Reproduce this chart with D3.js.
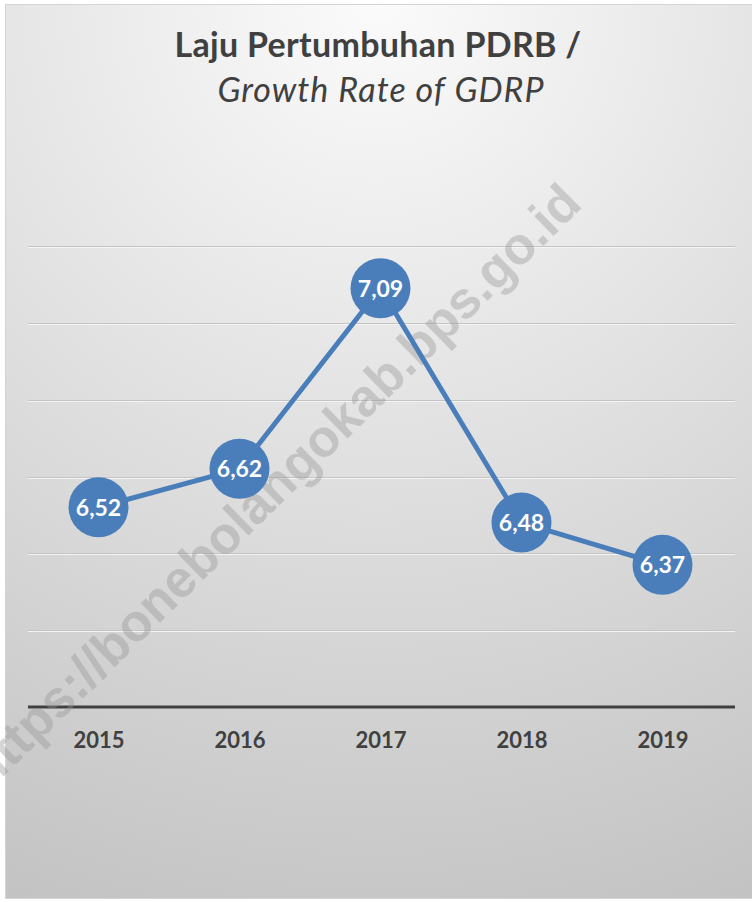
<!DOCTYPE html>
<html>
<head>
<meta charset="utf-8">
<script src="https://cdn.jsdelivr.net/npm/d3@7/dist/d3.min.js"></script>
<style>
  html, body { margin: 0; padding: 0; background: #ffffff; }
  svg { display: block; }
</style>
</head>
<body>
<svg id="chart" width="752" height="902"></svg>
<script>
// Growth rate of GDRP, percent, by year
const years = ["2015", "2016", "2017", "2018", "2019"];
const growth = [6.52, 6.62, 7.09, 6.48, 6.37];
const yTicks = [6.0, 6.2, 6.4, 6.6, 6.8, 7.0, 7.2];
const titleLine1 = "Laju Pertumbuhan PDRB /";
const titleLine2 = "Growth Rate of GDRP";
const watermark = "https://bonebolangokab.bps.go.id";

const W = 752, H = 902;
const svg = d3.select("#chart");

// soft radial backdrop
const defs = svg.append("defs");
const grad = defs.append("radialGradient")
  .attr("id", "bg")
  .attr("gradientUnits", "userSpaceOnUse")
  .attr("cx", 376).attr("cy", 0).attr("r", 1000);
grad.append("stop").attr("offset", 0).attr("stop-color", "#fbfbfb");
grad.append("stop").attr("offset", 1).attr("stop-color", "#c1c1c1");

svg.append("rect")
  .attr("x", 5.5).attr("y", 4.5)
  .attr("width", W - 5).attr("height", H - 8)
  .attr("fill", "url(#bg)")
  .attr("stroke", "#d4d4d4").attr("stroke-width", 1);

const x = d3.scalePoint().domain(years).range([28, 733]).padding(0.5);
const y = d3.scaleLinear().domain([6.0, 7.2]).range([707, 246]);

// horizontal gridlines
const grid = svg.append("g");
grid.selectAll("line.hl")
  .data(yTicks.slice(1))
  .join("line")
  .attr("class", "hl")
  .attr("x1", 28).attr("x2", 735)
  .attr("y1", d => Math.round(y(d)) + 1.5).attr("y2", d => Math.round(y(d)) + 1.5)
  .attr("stroke", "#f4f4f4").attr("stroke-width", 1);
grid.selectAll("line.g")
  .data(yTicks.slice(1))
  .join("line")
  .attr("class", "g")
  .attr("x1", 28).attr("x2", 735)
  .attr("y1", d => Math.round(y(d)) + 0.5).attr("y2", d => Math.round(y(d)) + 0.5)
  .attr("stroke", "#c4c4c4").attr("stroke-width", 1);

// category axis
const xAxis = svg.append("g")
  .attr("transform", `translate(0,${y(6.0)})`)
  .call(d3.axisBottom(x).tickSize(0).tickPadding(25));
xAxis.select(".domain")
  .attr("d", "M28,0H735")
  .attr("stroke", "#404040").attr("stroke-width", 3);
xAxis.selectAll("text")
  .attr("font-family", "Lato, 'Open Sans', sans-serif")
  .attr("font-weight", "bold")
  .attr("font-size", 22)
  .attr("fill", "#404040");

// watermark
svg.append("text")
  .attr("transform", "translate(584,206) rotate(-44.5)")
  .attr("text-anchor", "end")
  .attr("font-family", "'Liberation Sans', Arial, sans-serif")
  .attr("font-weight", "bold")
  .attr("font-size", 52)
  .attr("fill", "rgba(150,150,150,0.4)")
  .text(watermark);

// title
const title = svg.append("g")
  .attr("font-family", "Lato, 'Open Sans', sans-serif")
  .attr("fill", "#404040")
  .attr("text-anchor", "middle");
title.append("text")
  .attr("x", 378).attr("y", 57)
  .attr("font-weight", "bold")
  .attr("font-size", 34)
  .attr("letter-spacing", 0.3)
  .text(titleLine1);
title.append("text")
  .attr("x", 381).attr("y", 102)
  .attr("font-style", "italic")
  .attr("font-size", 34)
  .attr("letter-spacing", 1)
  .text(titleLine2);

// series line
const line = d3.line()
  .x((d, i) => x(years[i]))
  .y(d => y(d));
svg.append("path")
  .datum(growth)
  .attr("d", line)
  .attr("fill", "none")
  .attr("stroke", "#4a7ebb")
  .attr("stroke-width", 5)
  .attr("stroke-linejoin", "round");

// markers with value labels
const pts = svg.append("g")
  .selectAll("g")
  .data(growth)
  .join("g")
  .attr("transform", (d, i) => `translate(${x(years[i])},${y(d)})`);
pts.append("circle")
  .attr("r", 30)
  .attr("fill", "#4a7ebb");
pts.append("text")
  .attr("text-anchor", "middle")
  .attr("dy", "0.36em")
  .attr("font-family", "Lato, 'Open Sans', sans-serif")
  .attr("font-weight", "bold")
  .attr("font-size", 23)
  .attr("fill", "#ffffff")
  .text(d => d.toFixed(2).replace(".", ","));
</script>
</body>
</html>
